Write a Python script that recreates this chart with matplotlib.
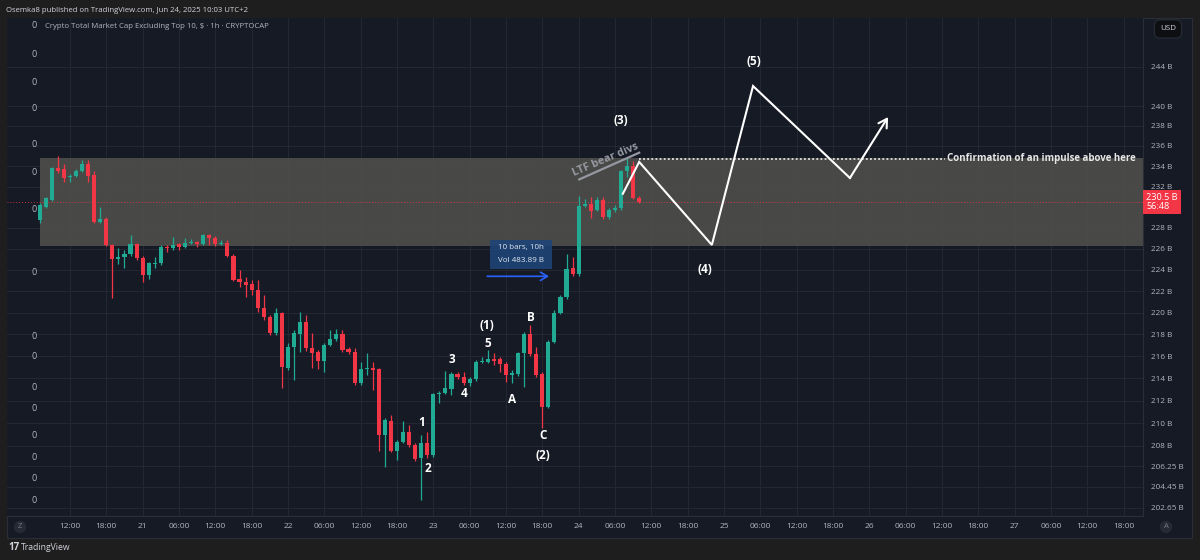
import matplotlib
matplotlib.use("Agg")
import matplotlib.pyplot as plt
import matplotlib.transforms as mtransforms
from matplotlib.patches import Rectangle
from matplotlib.ticker import FixedLocator, NullLocator
import numpy as np

plt.rcParams['font.family'] = ['Open Sans', 'DejaVu Sans']

# hourly candles, x = hours since Jun 20 00:00
FIRST_HOUR = 7
opens = [228.76, 230.04, 230.69, 233.79, 233.69, 232.90, 233.03, 233.52, 234.19, 233.13,
         228.60, 228.86, 226.37, 225.00, 225.19, 225.48, 226.43, 225.16, 223.52, 224.56,
         224.63, 226.21, 226.05, 226.43, 226.21, 226.59, 226.62, 226.46, 227.32, 227.00,
         226.43, 226.53, 225.35, 223.12, 222.89, 222.64, 222.11, 220.41, 219.64, 218.11,
         219.95, 214.97, 216.81, 218.04, 219.15, 216.76, 216.35, 215.62, 217.04, 217.55,
         218.01, 216.64, 216.37, 213.56, 214.82, 214.91, 214.82, 208.97, 210.23, 207.59,
         208.38, 209.23, 208.05, 206.95, 208.27, 207.21, 212.56, 212.72, 213.08, 214.40,
         214.10, 213.56, 213.95, 215.46, 215.52, 215.73, 215.73, 215.28, 214.31, 214.40,
         216.28, 218.01, 216.19, 214.40, 211.47, 217.34, 220.00, 221.46, 224.15, 223.61,
         230.11, 230.30, 229.72, 230.69, 229.02, 229.72, 229.88, 233.52, 234.02, 230.91]
highs = [230.40, 230.98, 233.91, 235.04, 234.22, 233.23, 233.72, 234.61, 234.61, 233.55,
         230.04, 229.05, 226.46, 226.08, 225.89, 227.32, 226.56, 225.32, 224.75, 225.25,
         226.37, 226.37, 227.16, 226.56, 227.06, 226.91, 226.75, 227.42, 227.42, 227.22,
         226.84, 226.84, 225.51, 223.99, 223.36, 223.05, 223.05, 221.64, 219.79, 220.43,
         220.06, 217.19, 218.41, 220.06, 219.79, 218.13, 216.58, 217.22, 218.41, 218.50,
         218.41, 216.82, 216.73, 215.52, 216.28, 215.52, 214.94, 210.47, 210.73, 208.53,
         210.23, 209.85, 208.27, 208.97, 209.26, 212.69, 212.87, 214.67, 214.58, 214.61,
         214.61, 214.13, 215.67, 215.97, 216.58, 216.28, 215.94, 215.49, 214.76, 216.40,
         218.22, 218.87, 216.88, 214.58, 217.49, 220.25, 221.64, 225.51, 225.25, 231.08,
         230.78, 231.01, 230.95, 230.95, 229.91, 230.20, 233.62, 234.79, 234.54, 231.08]
lows = [228.47, 229.91, 230.59, 233.33, 232.47, 232.47, 232.93, 233.42, 232.47, 228.47,
        228.47, 226.27, 221.34, 224.56, 224.15, 225.32, 224.94, 222.89, 223.15, 224.15,
        224.47, 225.70, 225.89, 225.89, 226.08, 226.46, 226.14, 226.37, 226.37, 226.27,
        226.37, 225.22, 222.96, 222.42, 221.46, 221.64, 220.04, 219.33, 217.95, 217.95,
        213.14, 214.76, 213.86, 216.42, 216.49, 214.91, 214.82, 214.58, 216.95, 217.40,
        216.40, 216.22, 213.41, 213.41, 214.31, 212.96, 207.59, 206.20, 207.48, 206.78,
        208.27, 207.91, 206.69, 203.33, 206.95, 207.04, 211.78, 212.60, 212.51, 213.95,
        213.41, 213.32, 213.77, 215.40, 215.40, 215.22, 214.61, 213.70, 213.56, 214.22,
        213.20, 216.04, 214.13, 209.56, 211.36, 217.22, 219.88, 221.27, 223.42, 223.42,
        230.01, 228.92, 229.62, 228.86, 228.86, 229.53, 229.72, 232.93, 230.78, 230.40]
closes = [230.20, 230.85, 233.79, 233.55, 232.86, 233.03, 233.55, 234.19, 233.03, 228.60,
          228.86, 226.37, 225.04, 225.25, 225.48, 226.43, 225.10, 223.52, 224.63, 224.69,
          226.21, 226.05, 226.37, 226.21, 226.59, 226.68, 226.43, 227.32, 227.00, 226.46,
          226.53, 225.32, 223.05, 222.89, 222.58, 222.11, 220.41, 219.61, 218.11, 219.95,
          214.99, 216.81, 218.09, 219.15, 216.73, 216.31, 215.61, 217.04, 217.54, 218.01,
          216.58, 216.37, 213.56, 214.85, 214.91, 214.76, 208.97, 210.29, 207.59, 208.38,
          209.19, 208.05, 206.89, 208.24, 207.17, 212.56, 212.72, 213.11, 214.40, 214.10,
          213.56, 213.95, 215.46, 215.58, 215.76, 215.61, 215.28, 214.31, 214.46, 216.28,
          218.01, 216.19, 214.31, 211.42, 217.34, 220.00, 221.46, 224.06, 223.61, 230.11,
          230.30, 229.65, 230.69, 229.02, 229.72, 229.94, 233.52, 234.02, 230.91, 230.50]

last_price = 230.5
zone_low, zone_high = 226.27, 234.81
zone_start = 7
confirm_level = 234.71
confirm_from, confirm_to = 106.0, 156.5

# projected Elliott path (3) -> (4) -> (5) -> ...
wave_hours = [103.3, 106.0, 118.0, 124.8, 140.8, 147.1]
wave_prices = [231.3, 234.42, 226.37, 242.03, 232.84, 238.89]

wave_label_text = ['(1)', '(2)', '(3)', '(4)', '(5)', '1', '2', '3', '4', '5', 'A', 'B', 'C']
wave_label_hours = [80.9, 90.1, 102.9, 116.9, 125.0, 70.1, 71.1, 75.1, 77.1, 81.0, 85.0, 88.1, 90.1]
wave_label_prices = [218.78, 207.13, 238.59, 224.08, 244.5, 210.03, 206.0, 215.67, 212.69,
                     217.13, 212.07, 219.6, 208.88]

div_hours = [96.1, 106.0]
div_prices = [232.7, 235.33]

range_hours = [80.9, 91.1]
range_price = 223.4
range_box = (81.4, 91.6, 224.09, 226.84)

price_ticks = [202.65, 204.45, 206.25, 208, 210, 212, 214, 216, 218, 220, 222, 224, 226,
               228, 232, 234, 236, 238, 240, 244]
left_zero_levels = [248.3, 245.3, 242.4, 239.8, 236.1, 233.4, 229.8, 223.8, 217.8, 216.0,
                    213.2, 211.3, 208.9, 207.0, 205.2, 203.3]
time_ticks = list(range(12, 187, 6))

BG = '#161a25'
GRID = '#232733'
BORDER = '#2a2e39'
TXT = '#b2b5be'
UP = '#22ab94'
DOWN = '#f23645'

W, H = 1200, 560


def fbox(x0, y0, x1, y1):
    return [x0 / W, 1 - y1 / H, (x1 - x0) / W, (y1 - y0) / H]


fig = plt.figure(figsize=(12, 5.6), dpi=100, facecolor='#1e1e1e')

panel = fig.add_axes(fbox(7, 18, 1192, 538))
panel.set_facecolor(BG)
panel.set_xticks([])
panel.set_yticks([])
for s in panel.spines.values():
    s.set_color(BORDER)

ax = fig.add_axes(fbox(7, 18, 1143, 516))
ax.set_facecolor(BG)
ax.set_yscale('log')
ax.set_xlim(1.6, 189.2)
ax.set_ylim(201.96, 249.06)

ax.yaxis.set_major_locator(FixedLocator(price_ticks))
ax.yaxis.set_minor_locator(NullLocator())
ax.set_yticklabels([f"{v:g} B" for v in price_ticks])
ax.yaxis.tick_right()
ax.tick_params(axis='y', length=0, pad=6, labelsize=5.9, labelcolor=TXT)

ax.set_xticks(time_ticks)
ax.set_xticklabels([str(20 + t // 24) if t % 24 == 0 else f"{t % 24:02d}:00" for t in time_ticks])
ax.tick_params(axis='x', length=0, pad=5, labelsize=6.0, labelcolor=TXT)

ax.grid(True, color=GRID, lw=0.8, zorder=0)
ax.set_axisbelow(True)
for side in ['left', 'top']:
    ax.spines[side].set_visible(False)
for side in ['right', 'bottom']:
    ax.spines[side].set_color(BORDER)

# zone
ax.add_patch(Rectangle((zone_start, zone_low), 189.2 - zone_start, zone_high - zone_low,
                       facecolor='#55554f', alpha=0.8, lw=0, zorder=1))

# current price line
ax.axhline(last_price, color=DOWN, lw=0.7, ls=(0, (1, 2)), alpha=0.8, zorder=2)

# candles
hours = np.arange(FIRST_HOUR, FIRST_HOUR + len(opens))
o, h, l, c = map(np.array, (opens, highs, lows, closes))
colors = np.where(c >= o, UP, DOWN)
ax.vlines(hours, l, h, colors=colors, lw=0.9, zorder=3)
ax.bar(hours, np.maximum(np.abs(c - o), 0.08), width=0.68, bottom=np.minimum(o, c),
       color=colors, linewidth=0, zorder=4)

# confirmation level
ax.plot([confirm_from, confirm_to], [confirm_level, confirm_level], color='white',
        lw=1.1, ls=(0, (1.2, 1.5)), zorder=5)
ax.text(confirm_to + 0.4, confirm_level, 'Confirmation of an impulse above here',
        color='#e6e6e6', fontsize=7.0, fontweight='bold', va='center', ha='left', zorder=6)

# projected path
ax.plot(wave_hours[:-1], wave_prices[:-1], color='white', lw=1.5, zorder=6,
        solid_joinstyle='miter')
ax.annotate('', xy=(wave_hours[-1], wave_prices[-1]), xytext=(wave_hours[-2], wave_prices[-2]),
            arrowprops=dict(arrowstyle='->,head_length=0.6,head_width=0.35', color='white',
                            lw=1.5, shrinkA=0, shrinkB=0), zorder=6)

for txt, hx, py in zip(wave_label_text, wave_label_hours, wave_label_prices):
    ax.text(hx, py, txt, color='white', fontsize=8.5, fontweight='bold',
            ha='center', va='center', zorder=7)

# LTF bear divs
ax.plot(div_hours, div_prices, color='#9598a1', lw=1.6, zorder=6)
ax.text(100.4, 234.61, 'LTF bear divs', color='#9598a1', fontsize=7.8, fontweight='bold',
        rotation=23, ha='center', va='center', zorder=7)

# date range measure
x0, x1, p0, p1 = range_box
ax.add_patch(Rectangle((x0, p0), x1 - x0, p1 - p0, facecolor='#1d4477', alpha=0.9,
                       lw=0, zorder=7))
ax.text((x0 + x1) / 2, 226.17, '10 bars, 10h', color='#e0e6ef', fontsize=5.8,
        ha='center', va='center', zorder=8)
ax.text((x0 + x1) / 2, 224.85, 'Vol 483.89 B', color='#e0e6ef', fontsize=5.8,
        ha='center', va='center', zorder=8)
ax.annotate('', xy=(range_hours[1], range_price), xytext=(range_hours[0], range_price),
            arrowprops=dict(arrowstyle='->,head_length=0.5,head_width=0.3', color='#2962ff',
                            lw=1.2, shrinkA=0, shrinkB=0), zorder=7)

# left scale zeros, chart title
blend = mtransforms.blended_transform_factory(ax.transAxes, ax.transData)
for lv in left_zero_levels:
    ax.text(0.0235, lv, '0', transform=blend, color=TXT, fontsize=6.5,
            ha='center', va='center')
ax.text(0.0335, 0.982, 'Crypto Total Market Cap Excluding Top 10, $ · 1h · CRYPTOCAP',
        transform=ax.transAxes, color=TXT, fontsize=5.6, ha='left', va='center')

# last price label on the scale
ax.text(1.003, last_price, '230.5 B\n56:48', transform=blend, color='white', fontsize=6.6,
        ha='left', va='center', linespacing=1.05, clip_on=False, zorder=9,
        bbox=dict(boxstyle='square,pad=0.35', fc=DOWN, ec='none'))

# header / footer / buttons
fig.text(6 / W, 1 - 10 / H, 'Osemka8 published on TradingView.com, Jun 24, 2025 10:03 UTC+2',
         color='#d1d4dc', fontsize=5.6, ha='left', va='center')
fig.text(8 / W, 1 - 548 / H, '17', color='#d1d4dc', fontsize=7, fontweight='bold',
         ha='left', va='center')
fig.text(21 / W, 1 - 548 / H, 'TradingView', color='#d1d4dc', fontsize=6.2,
         ha='left', va='center')
fig.text(1168 / W, 1 - 29 / H, 'USD', color='#d1d4dc', fontsize=5.8, ha='center', va='center',
         bbox=dict(boxstyle='round,pad=0.7', fc='#0e0f13', ec=BORDER, lw=0.8))
for px, letter in [(20, 'Z'), (1166, 'A')]:
    fig.text(px / W, 1 - 527 / H, letter, color='#787b86', fontsize=5.5, ha='center',
             va='center', bbox=dict(boxstyle='circle,pad=0.35', fc='#262a35', ec='none'))

fig.savefig('out.png', dpi=100, facecolor=fig.get_facecolor())
